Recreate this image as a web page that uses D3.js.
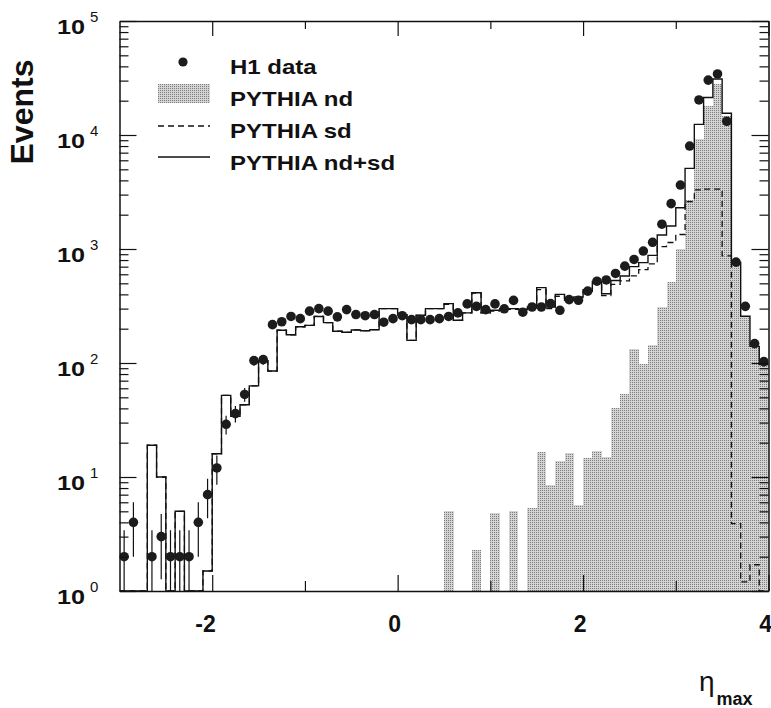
<!DOCTYPE html>
<html>
<head>
<meta charset="utf-8">
<script src="https://cdn.jsdelivr.net/npm/d3@7"></script>
<style>
  body { margin: 0; background: #fff; }
  text { font-family: "Liberation Sans", Arial, sans-serif; fill: #111; }
</style>
</head>
<body>
<div id="chart-area"></div>
<script>
/*
*    eta_max distribution, H1 data vs PYTHIA
*/
var binCenters = [
  -2.95, -2.85, -2.75, -2.65, -2.55, -2.45, -2.35, -2.25, -2.15, -2.05,
  -1.95, -1.85, -1.75, -1.65, -1.55, -1.45, -1.35, -1.25, -1.15, -1.05,
  -0.95, -0.85, -0.75, -0.65, -0.55, -0.45, -0.35, -0.25, -0.15, -0.05,
  0.05, 0.15, 0.25, 0.35, 0.45, 0.55, 0.65, 0.75, 0.85, 0.95,
  1.05, 1.15, 1.25, 1.35, 1.45, 1.55, 1.65, 1.75, 1.85, 1.95,
  2.05, 2.15, 2.25, 2.35, 2.45, 2.55, 2.65, 2.75, 2.85, 2.95,
  3.05, 3.15, 3.25, 3.35, 3.45, 3.55, 3.65, 3.75, 3.85, 3.95
];
var binWidth = 0.1;

var h1Data = [
  2, 4, 0, 2, 3, 2, 2, 2, 4, 7,
  12, 29, 36, 53, 105, 107, 217, 230, 256, 245,
  285, 300, 285, 254, 294, 266, 260, 266, 228, 245,
  260, 240, 240, 240, 245, 256, 275, 330, 314, 294,
  330, 299, 354, 279, 310, 310, 332, 290, 360, 355,
  427, 522, 535, 610, 707, 810, 960, 1145, 1650, 2500,
  3640, 8000, 20300, 30300, 34300, 13200, 767, 314, 148, 103
];

var pythiaNd = [
  0, 0, 0, 0, 0, 0, 0, 0, 0, 0,
  0, 0, 0, 0, 0, 0, 0, 0, 0, 0,
  0, 0, 0, 0, 0, 0, 0, 0, 0, 0,
  0, 0, 0, 0, 0, 5, 0, 0, 2.3, 0,
  4.8, 0, 5, 0, 5.4, 16.7, 8.5, 13.7, 16.2, 5.7,
  14.7, 17, 15, 40, 53, 134, 98, 145, 310, 515,
  1000, 2700, 9200, 18000, 28000, 14600, 750, 255, 138, 96
];

var pythiaSd = [
  0, 0, 0, 19, 10, 0, 5, 0, 0, 1.5,
  16, 52, 34, 43, 63, 105, 85, 194, 177, 208,
  214, 256, 226, 190, 186, 195, 192, 196, 300, 300,
  265, 158, 262, 300, 300, 327, 237, 275, 411, 275,
  285, 300, 295, 295, 305, 440, 300, 385, 355, 375,
  425, 500, 390, 490, 525, 580, 660, 740, 1050, 1140,
  1340, 2600, 3300, 3350, 3350, 870, 3.9, 1.2, 1.7, 0
];

var pythiaSum = [
  0, 0, 0, 19, 10, 0, 5, 0, 0, 1.5,
  16, 52, 34, 43, 63, 105, 85, 194, 177, 208,
  214, 256, 226, 190, 186, 195, 192, 196, 300, 300,
  265, 158, 262, 300, 300, 332, 237, 275, 413, 275,
  290, 300, 300, 295, 310, 458, 310, 400, 370, 380,
  440, 520, 405, 530, 580, 700, 760, 880, 1325, 1590,
  2300, 5100, 12400, 21300, 31000, 15500, 762, 257, 140, 97
];

var xMajorTicks = [-2, 0, 2, 4];
var xMinorTicks = [-1, 1, 3];
var yDecades = [1, 10, 100, 1000, 10000, 100000];
var yMinorSteps = [2, 3, 4, 5, 6, 7, 8, 9];
var legendLabels = ["H1 data", "PYTHIA nd", "PYTHIA sd", "PYTHIA nd+sd"];

var width = 771;
var height = 708;
var plot = { left: 119.5, right: 768.5, top: 21, bottom: 591 };

var svg = d3.select("#chart-area")
  .append("svg")
  .attr("width", width)
  .attr("height", height)
  .style("display", "block");

svg.append("rect").attr("width", width).attr("height", height).attr("fill", "#fff");

var x = d3.scaleLinear().domain([-3, 4]).range([plot.left, plot.right]);
var y = d3.scaleLog().domain([1, 1e5]).range([plot.bottom, plot.top]);

// halftone-like shading
var defs = svg.append("defs");
var pat = defs.append("pattern")
  .attr("id", "dots")
  .attr("width", 2).attr("height", 2)
  .attr("patternUnits", "userSpaceOnUse");
pat.append("rect").attr("width", 2).attr("height", 2).attr("fill", "#d4d4d4");
pat.append("rect").attr("width", 1).attr("height", 1).attr("fill", "#7c7c7c");

defs.append("clipPath").attr("id", "plotclip")
  .append("rect")
  .attr("x", plot.left).attr("y", plot.top)
  .attr("width", plot.right - plot.left)
  .attr("height", plot.bottom - plot.top);

var g = svg.append("g").attr("clip-path", "url(#plotclip)");

// PYTHIA nd (shaded)
var ndBins = binCenters.map((c, i) => ({ c: c, v: pythiaNd[i] })).filter(d => d.v > 1);
g.selectAll("rect.nd")
  .data(ndBins).enter()
  .append("rect")
  .attr("class", "nd")
  .attr("x", d => x(d.c - binWidth / 2))
  .attr("width", d => x(d.c + binWidth / 2) - x(d.c - binWidth / 2) + 0.3)
  .attr("y", d => y(d.v))
  .attr("height", d => y(1) - y(d.v))
  .attr("fill", "url(#dots)")
  .attr("shape-rendering", "crispEdges");

function stepPoints(vals) {
  var pts = binCenters.map((c, i) => [c - binWidth / 2, Math.max(vals[i], 1)]);
  pts.push([4, Math.max(vals[vals.length - 1], 1)]);
  return pts;
}
var stepLine = d3.line()
  .x(d => x(d[0]))
  .y(d => y(d[1]))
  .curve(d3.curveStepAfter);

// PYTHIA sd (dashed)
g.append("path")
  .datum(stepPoints(pythiaSd))
  .attr("d", stepLine)
  .attr("fill", "none")
  .attr("stroke", "#111")
  .attr("stroke-width", 1.3)
  .attr("stroke-dasharray", "6,4");

// PYTHIA nd+sd (solid)
g.append("path")
  .datum(stepPoints(pythiaSum))
  .attr("d", stepLine)
  .attr("fill", "none")
  .attr("stroke", "#111")
  .attr("stroke-width", 1.4);

// H1 data
var pts = binCenters.map((c, i) => ({ c: c, v: h1Data[i] })).filter(d => d.v > 0);
g.selectAll("line.err")
  .data(pts).enter()
  .append("line")
  .attr("class", "err")
  .attr("x1", d => x(d.c)).attr("x2", d => x(d.c))
  .attr("y1", d => y(Math.max(d.v - Math.sqrt(d.v), 1)))
  .attr("y2", d => y(d.v + Math.sqrt(d.v)))
  .attr("stroke", "#111")
  .attr("stroke-width", 1.2);

g.selectAll("circle.pt")
  .data(pts).enter()
  .append("circle")
  .attr("class", "pt")
  .attr("cx", d => x(d.c))
  .attr("cy", d => y(d.v))
  .attr("r", 4.8)
  .attr("fill", "#1c1c1c");

// axes: ticks pointing inward on all four sides
var yMinorTicks = [];
yDecades.slice(0, -1).forEach(d => yMinorSteps.forEach(m => yMinorTicks.push(d * m)));

function styleAxis(sel, keepDomain) {
  sel.selectAll(".tick line").attr("stroke", "#111").attr("stroke-width", 1.2);
  sel.select(".domain").attr("stroke", "#111").attr("stroke-width", 1.5);
  if (!keepDomain) sel.select(".domain").remove();
}

var axisDefs = [
  { a: d3.axisBottom(x).tickValues(xMajorTicks).tickSize(-16), t: "translate(0," + plot.bottom + ")", dom: true },
  { a: d3.axisBottom(x).tickValues(xMinorTicks).tickSize(-10), t: "translate(0," + plot.bottom + ")", dom: false },
  { a: d3.axisTop(x).tickValues(xMajorTicks).tickSize(-15), t: "translate(0," + plot.top + ")", dom: true },
  { a: d3.axisTop(x).tickValues(xMinorTicks).tickSize(-8), t: "translate(0," + plot.top + ")", dom: false },
  { a: d3.axisLeft(y).tickValues(yDecades).tickSize(-17), t: "translate(" + plot.left + ",0)", dom: true },
  { a: d3.axisLeft(y).tickValues(yMinorTicks).tickSize(-9), t: "translate(" + plot.left + ",0)", dom: false },
  { a: d3.axisRight(y).tickValues(yDecades).tickSize(-17), t: "translate(" + plot.right + ",0)", dom: true },
  { a: d3.axisRight(y).tickValues(yMinorTicks).tickSize(-9), t: "translate(" + plot.right + ",0)", dom: false }
];
axisDefs.forEach(ad => {
  var ax = svg.append("g")
    .attr("transform", ad.t)
    .call(ad.a.tickSizeOuter(0).tickFormat(""));
  styleAxis(ax, ad.dom);
});

// x tick labels
svg.selectAll("text.xlab")
  .data(xMajorTicks).enter()
  .append("text")
  .attr("class", "xlab")
  .attr("x", d => x(d) + 3.5)
  .attr("y", plot.bottom + 41)
  .attr("text-anchor", "end")
  .attr("font-size", "23px")
  .attr("font-weight", "bold")
  .text(d => d === 0 ? "0" : (d < 0 ? "-" + Math.abs(d) : d));

// y tick labels 10^n
yDecades.forEach(d => {
  var yy = y(d);
  svg.append("text")
    .attr("transform", "translate(57," + (yy + 13) + ") scale(1.2,1)")
    .attr("font-size", "21px")
    .attr("font-weight", "bold")
    .text("10");
  svg.append("text")
    .attr("x", 90)
    .attr("y", yy + 1)
    .attr("font-size", "15px")
    .text(Math.round(Math.log10(d)));
});

// axis titles
svg.append("text")
  .attr("transform", "translate(33,112) rotate(-90)")
  .attr("text-anchor", "middle")
  .attr("font-size", "32px")
  .attr("font-weight", "bold")
  .text("Events");

var xt = svg.append("text").attr("x", 699).attr("y", 691);
xt.append("tspan").attr("font-size", "28px").text("η");
xt.append("tspan").attr("font-size", "18px").attr("font-weight", "bold")
  .attr("dx", 2).attr("dy", 14).text("max");

// legend
var lg = svg.append("g");
lg.append("circle").attr("cx", 183).attr("cy", 62).attr("r", 4.6).attr("fill", "#1c1c1c");
lg.append("rect").attr("x", 158).attr("y", 84).attr("width", 52).attr("height", 19)
  .attr("fill", "url(#dots)").attr("shape-rendering", "crispEdges");
lg.append("line").attr("x1", 158).attr("x2", 210).attr("y1", 126).attr("y2", 126)
  .attr("stroke", "#111").attr("stroke-width", 1.3).attr("stroke-dasharray", "6,4");
lg.append("line").attr("x1", 158).attr("x2", 210).attr("y1", 157).attr("y2", 157)
  .attr("stroke", "#111").attr("stroke-width", 1.4);

lg.selectAll("text")
  .data(legendLabels).enter()
  .append("text")
  .attr("transform", (d, i) => "translate(230," + (74 + i * 32) + ") scale(1.2,1)")
  .attr("font-size", "20px")
  .attr("font-weight", "bold")
  .text(d => d);
</script>
</body>
</html>
